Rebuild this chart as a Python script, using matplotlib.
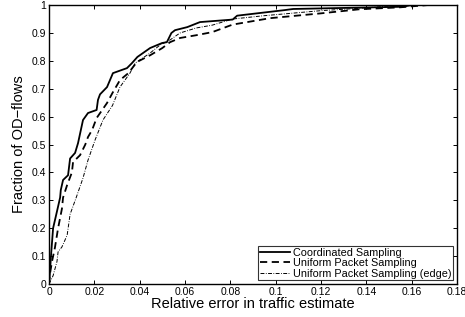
import matplotlib
matplotlib.use('Agg')
import matplotlib.pyplot as plt

# CDF of relative error
coord_x = [0.0, 0.0003, 0.0009, 0.0018, 0.0035, 0.0049, 0.0052, 0.0062, 0.0084, 0.0093,
           0.0115, 0.0128, 0.015, 0.0172, 0.021, 0.0216, 0.0225, 0.0256, 0.0282, 0.0344,
           0.0366, 0.039, 0.0446, 0.0499, 0.052, 0.054, 0.0556, 0.061, 0.0666, 0.081,
           0.083, 0.104, 0.1077, 0.156, 0.160]
coord_y = [0.0, 0.03, 0.104, 0.20, 0.26, 0.31, 0.337, 0.373, 0.39, 0.45,
           0.47, 0.505, 0.588, 0.613, 0.624, 0.66, 0.68, 0.706, 0.756, 0.774,
           0.792, 0.814, 0.846, 0.864, 0.867, 0.90, 0.91, 0.921, 0.939, 0.948,
           0.962, 0.982, 0.986, 0.994, 1.0]

unif_x = [0.0, 0.0003, 0.0013, 0.0026, 0.004, 0.0057, 0.0062, 0.008, 0.0101, 0.0106,
          0.0137, 0.016, 0.0172, 0.019, 0.021, 0.0256, 0.028, 0.0313, 0.035, 0.0388,
          0.0446, 0.050, 0.0534, 0.0578, 0.065, 0.072, 0.081, 0.0975, 0.1196, 0.137,
          0.155, 0.167]
unif_y = [0.0, 0.03, 0.08, 0.13, 0.20, 0.27, 0.31, 0.355, 0.40, 0.437,
          0.462, 0.50, 0.527, 0.552, 0.595, 0.649, 0.685, 0.731, 0.756, 0.796,
          0.82, 0.846, 0.867, 0.882, 0.892, 0.903, 0.93, 0.953, 0.97, 0.985,
          0.992, 1.0]

edge_x = [0.0, 0.0018, 0.0035, 0.004, 0.0057, 0.008, 0.0093, 0.012, 0.015, 0.0172,
          0.0203, 0.0238, 0.028, 0.0313, 0.0357, 0.038, 0.0446, 0.049, 0.0534, 0.0578,
          0.065, 0.072, 0.081, 0.095, 0.12, 0.14, 0.155]
edge_y = [0.0, 0.03, 0.08, 0.115, 0.133, 0.175, 0.25, 0.31, 0.38, 0.444,
          0.516, 0.588, 0.64, 0.706, 0.756, 0.792, 0.828, 0.857, 0.875, 0.90,
          0.918, 0.928, 0.95, 0.962, 0.98, 0.99, 1.0]

labels = ['Coordinated Sampling', 'Uniform Packet Sampling', 'Uniform Packet Sampling (edge)']

plt.rcParams['font.family'] = ['Liberation Sans', 'DejaVu Sans']

fig = plt.figure(figsize=(4.65, 3.17), dpi=100)
ax = fig.add_axes([0.1054, 0.104, 0.8774, 0.880])

ax.plot(coord_x, coord_y, color='black', linestyle='-', linewidth=1.3, label=labels[0])
ax.plot(unif_x, unif_y, color='black', linestyle=(0, (4, 2.5)), linewidth=1.3, label=labels[1])
ax.plot(edge_x, edge_y, color='black', linestyle=(0, (4, 1.5, 0.8, 1.5)), linewidth=0.7, label=labels[2])

ax.set_xlim(0, 0.18)
ax.set_ylim(0, 1)
ax.set_xticks([0, 0.02, 0.04, 0.06, 0.08, 0.1, 0.12, 0.14, 0.16, 0.18])
ax.set_xticklabels(['0', '0.02', '0.04', '0.06', '0.08', '0.1', '0.12', '0.14', '0.16', '0.18'])
ax.set_yticks([0, 0.1, 0.2, 0.3, 0.4, 0.5, 0.6, 0.7, 0.8, 0.9, 1])
ax.set_yticklabels(['0', '0.1', '0.2', '0.3', '0.4', '0.5', '0.6', '0.7', '0.8', '0.9', '1'])
ax.tick_params(direction='in', top=True, right=True, length=3, width=0.7, labelsize=7.5, pad=2)
for s in ax.spines.values():
    s.set_linewidth(1.0)

ax.set_xlabel('Relative error in traffic estimate', fontsize=10.5, labelpad=0)
ax.set_ylabel('Fraction of OD\u2212flows', fontsize=10.5, labelpad=4)

leg = ax.legend(loc='lower right', fontsize=7.8, frameon=True, fancybox=False,
                edgecolor='black', handlelength=2.8, handletextpad=0.25,
                borderpad=0.15, labelspacing=0.05, borderaxespad=0.35)
leg.get_frame().set_linewidth(0.8)

fig.savefig('out.png', dpi=100)
